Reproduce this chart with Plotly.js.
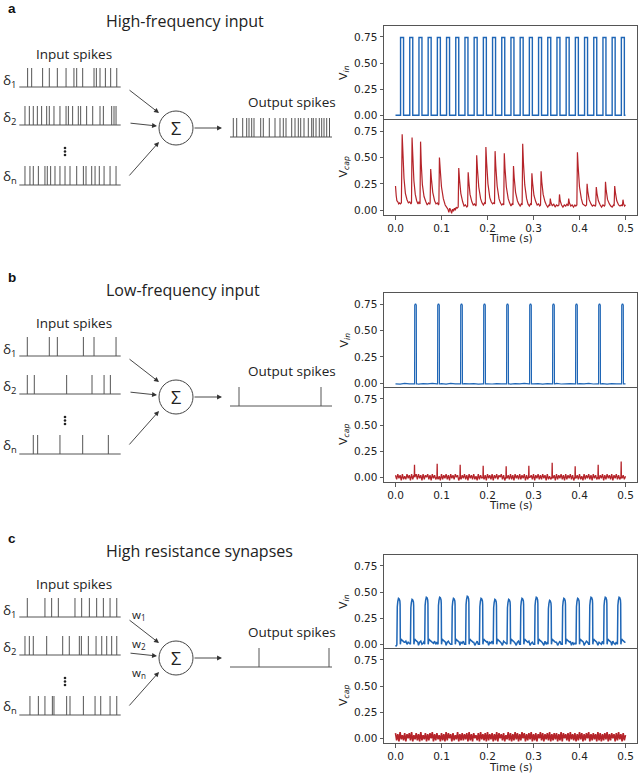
<!DOCTYPE html>
<html><head><meta charset="utf-8">
<script src="https://cdn.plot.ly/plotly-3.0.1.min.js"></script>
<style>body{margin:0;background:#fff}#chart{width:640px;height:775px}</style>
</head><body><div id="chart"></div>
<script>
// ================= DATA =================
const timeTicks = [0, 0.1, 0.2, 0.3, 0.4, 0.5];
const timeTickText = ['0.0', '0.1', '0.2', '0.3', '0.4', '0.5'];
const voltTicks = [0, 0.25, 0.5, 0.75];
const voltTickText = ['0.00', '0.25', '0.50', '0.75'];
const tEnd = 0.5;

// ---- panel a: high-frequency input ----
const aVinOnsets = [0.011,0.031,0.051,0.071,0.091,0.111,0.131,0.151,0.171,0.191,0.211,0.231,0.251,
  0.271,0.291,0.311,0.331,0.351,0.371,0.391,0.411,0.431,0.451,0.471,0.491];
const aVinWidth = 0.0065;
const aVinHigh = 0.745;
const aVinBase = 0.0;
const aVcapSamples = [
 [0.000,0.23],[0.0015,0.14],[0.003,0.09],[0.005,0.08],[0.007,0.06],[0.009,0.07],[0.011,0.06],[0.0128,0.07],
 [0.0145,0.72],[0.016,0.56],[0.0185,0.30],[0.0215,0.16],[0.025,0.10],[0.028,0.07],[0.031,0.08],[0.0335,0.06],[0.0348,0.07],
 [0.036,0.69],[0.0375,0.53],[0.040,0.28],[0.043,0.15],[0.046,0.09],[0.049,0.06],[0.051,0.08],[0.0533,0.06],
 [0.0545,0.65],[0.056,0.44],[0.0585,0.24],[0.062,0.13],[0.066,0.08],[0.069,0.05],[0.072,0.07],[0.0745,0.06],[0.0753,0.07],
 [0.0765,0.39],[0.078,0.30],[0.081,0.17],[0.085,0.09],[0.088,0.06],[0.091,0.07],[0.0935,0.05],[0.0943,0.06],
 [0.0955,0.50],[0.097,0.40],[0.100,0.22],[0.104,0.11],[0.108,0.05],[0.111,0.03],[0.114,0.01],[0.116,-0.02],[0.118,0.02],
 [0.120,0.00],[0.122,-0.03],[0.124,0.01],[0.126,-0.01],[0.128,0.02],[0.130,0.00],[0.132,0.03],[0.134,0.02],[0.1363,0.03],
 [0.1375,0.40],[0.139,0.30],[0.142,0.16],[0.146,0.08],[0.149,0.04],[0.152,0.05],[0.155,0.03],[0.1568,0.04],
 [0.158,0.36],[0.1595,0.27],[0.162,0.15],[0.166,0.08],[0.169,0.05],[0.172,0.06],[0.1745,0.04],[0.1753,0.05],
 [0.1765,0.52],[0.178,0.40],[0.181,0.22],[0.185,0.11],[0.188,0.07],[0.191,0.05],[0.1935,0.07],[0.1953,0.06],
 [0.1965,0.60],[0.198,0.46],[0.201,0.25],[0.205,0.12],[0.208,0.08],[0.211,0.06],[0.2135,0.07],[0.2153,0.06],
 [0.2165,0.56],[0.218,0.42],[0.221,0.23],[0.225,0.11],[0.228,0.07],[0.231,0.05],[0.2335,0.06],[0.2353,0.05],
 [0.2365,0.54],[0.238,0.40],[0.241,0.22],[0.245,0.11],[0.248,0.07],[0.251,0.04],[0.2535,0.06],[0.2553,0.05],
 [0.2565,0.42],[0.258,0.31],[0.261,0.17],[0.265,0.09],[0.268,0.06],[0.271,0.04],[0.2735,0.06],[0.2753,0.05],
 [0.2765,0.63],[0.278,0.46],[0.281,0.24],[0.285,0.11],[0.288,0.06],[0.291,0.04],[0.2935,0.06],[0.2953,0.05],
 [0.2965,0.35],[0.298,0.26],[0.301,0.14],[0.305,0.08],[0.308,0.05],[0.311,0.06],[0.3135,0.04],[0.3153,0.05],
 [0.3165,0.37],[0.318,0.27],[0.321,0.15],[0.325,0.08],[0.328,0.05],[0.331,0.03],[0.334,0.05],[0.3355,0.04],
 [0.3365,0.11],[0.338,0.07],[0.341,0.04],[0.344,0.06],[0.347,0.03],[0.350,0.05],[0.353,0.04],[0.3553,0.05],
 [0.3565,0.15],[0.358,0.09],[0.361,0.05],[0.364,0.03],[0.367,0.05],[0.370,0.04],[0.373,0.06],[0.3753,0.04],
 [0.3765,0.11],[0.378,0.07],[0.381,0.04],[0.384,0.05],[0.387,0.03],[0.390,0.05],[0.392,0.04],[0.3943,0.05],
 [0.3955,0.55],[0.397,0.42],[0.400,0.22],[0.404,0.11],[0.407,0.06],[0.410,0.05],[0.413,0.04],[0.4153,0.05],
 [0.4165,0.25],[0.418,0.18],[0.421,0.10],[0.425,0.06],[0.428,0.04],[0.431,0.05],[0.434,0.04],[0.4353,0.05],
 [0.4365,0.22],[0.438,0.16],[0.441,0.09],[0.445,0.05],[0.448,0.03],[0.451,0.05],[0.454,0.04],[0.4553,0.05],
 [0.4565,0.27],[0.458,0.19],[0.461,0.10],[0.465,0.06],[0.468,0.04],[0.471,0.03],[0.474,0.05],[0.4753,0.04],
 [0.4765,0.23],[0.478,0.17],[0.481,0.09],[0.485,0.05],[0.488,0.04],[0.491,0.05],[0.4933,0.04],
 [0.4945,0.10],[0.496,0.06],[0.498,0.04],[0.500,0.05]
];

// ---- panel b: low-frequency input ----
const bVinOnsets = [0.0415,0.0915,0.1415,0.1915,0.2415,0.2915,0.3415,0.3915,0.4415,0.4915];
const bVinWidth = 0.004;
const bVinHigh = 0.745;
const bVinBaseStep = 0.01;
const bVinBase = [-0.005,-0.008,-0.002,-0.006,-0.004,-0.009,-0.003,-0.006,-0.001,-0.007,-0.004,-0.008,-0.002,
  -0.005,-0.007,-0.003,-0.006,-0.004,-0.009,-0.002,-0.005,-0.007,-0.003,-0.006,-0.001,-0.008,-0.004,-0.006,-0.002,
  -0.007,-0.005,-0.003,-0.008,-0.004,-0.006,-0.002,-0.007,-0.005,-0.003,-0.008,-0.004,-0.006,-0.001,-0.007,-0.005,
  -0.003,-0.008,-0.004,-0.006,-0.002,-0.005];
const bVcapSpikeT = [0.0413,0.0906,0.1406,0.1906,0.2406,0.2899,0.3406,0.3906,0.4406,0.4906];
const bVcapSpikeV = [0.12,0.13,0.12,0.11,0.105,0.11,0.14,0.105,0.12,0.15];
const bVcapNoiseStep = 0.0025;
const bVcapNoise = [
 0.02,-0.02,0.03,-0.01,0.02,-0.03,0.03,-0.02,0.01,-0.02,0.03,-0.01,0.02,-0.03,0.03,-0.02,0.02,-0.01,0.03,-0.02,
 0.03,-0.01,0.02,-0.03,0.03,-0.02,0.02,0.00,0.03,-0.02,0.02,-0.03,0.03,-0.01,0.02,-0.02,0.03,-0.02,0.01,-0.03,
 0.03,-0.02,0.02,-0.01,0.03,-0.02,0.02,-0.03,0.03,-0.01,0.02,-0.02,0.03,0.00,0.02,-0.03,0.03,-0.02,0.02,-0.01,
 0.03,-0.02,0.02,-0.03,0.03,-0.01,0.02,-0.02,0.03,-0.02,0.01,-0.03,0.03,-0.02,0.02,-0.01,0.03,-0.02,0.02,-0.03,
 0.03,-0.01,0.02,-0.02,0.03,-0.03,0.02,-0.01,0.03,-0.02,0.02,0.00,0.03,-0.02,0.02,-0.03,0.03,-0.01,0.02,-0.02,
 0.03,-0.02,0.02,-0.03,0.03,-0.01,0.02,-0.02,0.03,-0.02,0.02,-0.01,0.03,-0.03,0.02,-0.02,0.03,0.00,0.02,-0.02,
 0.03,-0.03,0.02,-0.01,0.03,-0.02,0.02,-0.02,0.03,-0.01,0.02,-0.03,0.03,-0.02,0.01,-0.02,0.03,-0.01,0.02,-0.03,
 0.03,-0.02,0.02,-0.01,0.03,-0.02,0.02,-0.03,0.03,-0.02,0.02,-0.01,0.03,-0.02,0.02,-0.03,0.03,-0.01,0.02,-0.02,
 0.03,-0.02,0.01,-0.03,0.03,-0.02,0.02,-0.01,0.03,-0.02,0.02,-0.03,0.03,-0.01,0.02,-0.02,0.03,-0.02,0.02,-0.01,
 0.03,-0.03,0.02,-0.02,0.03,-0.01,0.02,-0.02,0.03,-0.03,0.02,-0.01,0.03,-0.02,0.02,-0.02,0.03,-0.01,0.02,-0.02,
 0.01];

// ---- panel c: high resistance synapses ----
const cVinOnsets = [0.0035,0.033,0.064,0.093,0.123,0.153,0.183,0.213,0.243,0.272,0.303,0.332,0.363,0.393,0.422,0.453,0.483];
const cVinTops = [0.44,0.43,0.45,0.45,0.44,0.46,0.44,0.43,0.43,0.44,0.45,0.42,0.44,0.44,0.45,0.45,0.45];
const cVinWidth = 0.0065;
const cVinOvershoot = 0.05;
const cVinNoiseStep = 0.0025;
const cVinNoise = [
 -0.02,-0.01,0.01,0.02,0.00,0.03,0.01,-0.01,0.02,0.03,0.00,0.02,0.01,-0.01,0.03,0.01,0.02,0.00,0.03,0.01,
 -0.01,0.02,0.03,0.00,0.01,0.03,-0.01,0.02,0.01,0.00,0.03,0.02,-0.01,0.01,0.03,0.00,0.02,0.01,0.03,-0.01,
 0.02,0.00,0.03,0.01,-0.01,0.02,0.03,0.01,0.00,0.02,-0.01,0.03,0.01,0.02,0.00,0.03,-0.01,0.02,0.01,0.03,
 0.00,0.01,0.03,-0.01,0.02,0.01,0.00,0.03,0.02,-0.01,0.01,0.03,0.00,0.02,0.01,-0.01,0.03,0.02,0.00,0.01,
 0.03,-0.01,0.02,0.01,0.03,0.00,0.02,-0.01,0.01,0.03,0.02,0.00,0.01,-0.01,0.03,0.02,0.01,0.00,0.03,-0.01,
 0.01,0.02,0.00,0.03,0.01,-0.01,0.02,0.03,0.00,0.01,0.02,-0.01,0.03,0.01,0.00,0.02,0.03,-0.01,0.01,0.02,
 0.00,0.03,0.01,-0.01,0.02,0.00,0.03,0.02,0.01,-0.01,0.03,0.00,0.02,0.01,0.03,-0.01,0.01,0.02,0.00,0.03,
 0.02,-0.01,0.01,0.03,0.00,0.02,0.01,-0.01,0.03,0.02,0.00,0.01,0.03,-0.01,0.02,0.00,0.01,0.03,0.02,-0.01,
 0.01,0.03,0.00,0.02,-0.01,0.01,0.03,0.02,0.00,0.01,-0.01,0.03,0.02,0.00,0.01,0.03,-0.01,0.02,0.01,0.00,
 0.03,0.01,-0.01,0.02,0.03,0.00,0.01,0.02,-0.01,0.03,0.01,0.00,0.02,0.03,-0.01,0.01,0.02,0.00,0.03,0.04,
 0.02];
const cVcapNoiseStep = 0.0025;
const cVcapNoise = [
 0.05,-0.02,0.04,-0.03,0.06,-0.01,0.03,-0.02,0.05,-0.03,0.04,0.00,0.05,-0.02,0.06,-0.03,0.03,-0.01,0.05,-0.02,
 0.04,-0.03,0.06,-0.02,0.03,-0.01,0.05,-0.03,0.04,-0.02,0.05,0.00,0.06,-0.03,0.04,-0.02,0.05,-0.01,0.03,-0.03,
 0.05,-0.02,0.04,-0.03,0.06,-0.02,0.05,0.00,0.04,-0.03,0.05,-0.02,0.03,-0.01,0.06,-0.03,0.04,-0.02,0.05,-0.02,
 0.04,-0.01,0.05,-0.03,0.06,-0.02,0.04,-0.03,0.05,0.00,0.03,-0.02,0.05,-0.03,0.06,-0.01,0.04,-0.02,0.05,-0.03,
 0.06,-0.02,0.04,-0.01,0.05,-0.03,0.04,-0.02,0.06,-0.03,0.05,0.00,0.04,-0.02,0.05,-0.03,0.03,-0.01,0.06,-0.02,
 0.05,-0.03,0.04,-0.02,0.06,-0.01,0.05,-0.03,0.04,-0.02,0.06,0.00,0.05,-0.03,0.04,-0.02,0.05,-0.01,0.06,-0.03,
 0.04,-0.02,0.05,-0.03,0.04,0.00,0.06,-0.02,0.05,-0.03,0.04,-0.01,0.05,-0.02,0.06,-0.03,0.04,-0.02,0.05,-0.01,
 0.05,-0.03,0.04,-0.02,0.06,-0.03,0.05,0.00,0.04,-0.02,0.05,-0.03,0.06,-0.01,0.04,-0.02,0.05,-0.03,0.04,-0.02,
 0.06,-0.01,0.05,-0.03,0.04,-0.02,0.05,0.00,0.06,-0.03,0.04,-0.02,0.05,-0.01,0.04,-0.03,0.06,-0.02,0.05,-0.03,
 0.04,-0.02,0.05,-0.01,0.06,-0.03,0.04,-0.02,0.05,0.00,0.04,-0.03,0.05,-0.02,0.06,-0.01,0.04,-0.03,0.05,-0.02,
 0.03];

// ---- schematic spike trains (position along the train, 0-100) ----
const aIn1 = [8.2,12.2,23.0,29.6,37.5,46.1,53.9,56.6,62.5,73.7,76.0,79.6,84.9,90.1,96.1];
const aIn2 = [5.6,9.9,13.8,17.8,22.0,27.0,29.6,34.2,40.1,46.1,48.4,52.6,58.2,60.5,66.4,72.4,79.6,82.9,91.1,93.4,95.4];
const aInN = [5.6,10.5,13.8,18.8,25.3,27.6,30.9,35.2,40.1,45.1,50.0,56.6,63.2,65.8,71.4,74.7,78.9,83.6,89.5,95.4];
const aOut = [3.3,6.7,12.7,16.7,19.0,21.7,24.0,30.7,33.3,39.3,45.0,50.0,53.3,56.0,61.7,65.0,68.3,70.7,74.0,78.3,81.7,83.3,86.0,89.3,91.7,94.0,96.7,99.5];
const bIn1 = [7.9,29.6,37.5,63.2,73.7,95.4];
const bIn2 = [7.9,14.8,46.7,71.7,83.6,89.8];
const bInN = [13.8,18.1,40.1,62.5,87.8];
const bOut = [9.0,91.0];
const cIn1 = [7.9,25.3,31.9,38.5,54.9,61.5,69.1,76.3,82.9,89.5,96.1];
const cIn2 = [5.6,9.9,13.8,27.0,42.8,49.3,59.2,61.2,68.1,75.7,81.3,86.2,91.1,96.1];
const cInN = [10.5,18.8,25.3,32.6,34.2,46.7,50.0,63.2,74.7,80.3,89.5,96.1];
const cOut = [29.0,99.0];

const panelTitles = ['High-frequency input', 'Low-frequency input', 'High resistance synapses'];
const panelLetters = ['a', 'b', 'c'];
const inputLabel = 'Input spikes';
const outputLabel = 'Output spikes';
const deltaLabels = ['δ<sub>1</sub>', 'δ<sub>2</sub>', 'δ<sub>n</sub>'];
const weightLabels = ['w<sub>1</sub>', 'w<sub>2</sub>', 'w<sub>n</sub>'];

// ================= STYLE / GEOMETRY =================
const BLUE = '#1f66b6', RED = '#b5242a', GRAY = '#555';
const panelCY = [128, 397, 658];
const inX0 = 19.3, inLen = 101.4, outX0 = 230, outLen = 100, outEnd = 332, spikeH = 19;
const xDom = [384/640, 637/640];
const yDoms = [[26,120],[120,215],[293,388],[388,482],[555,649],[649,743]]
  .map(p => [1 - p[1]/775, 1 - p[0]/775]);
const timeLabelY = [238, 505, 767];

// ================= BUILD =================
function sortXY(pts) { pts.sort((a, b) => a[0] - b[0]); return { x: pts.map(p => p[0]), y: pts.map(p => p[1]) }; }
function grid(vals, dt, windows) {
  const out = [];
  vals.forEach((v, i) => { const t = +(i * dt).toFixed(5); if (!windows.some(w => t >= w[0] && t <= w[1])) out.push([t, v]); });
  return out;
}
// a Vin
const aVinPts = [[0, aVinBase]];
aVinOnsets.forEach(on => { aVinPts.push([on, aVinBase], [on, aVinHigh], [on + aVinWidth, aVinHigh], [on + aVinWidth, aVinBase]); });
aVinPts.push([tEnd, aVinBase]);
// b Vin
const bVinPts = grid(bVinBase, bVinBaseStep, bVinOnsets.map(on => [on - 0.002, on + bVinWidth + 0.002]));
bVinOnsets.forEach(on => {
  bVinPts.push([on - 0.0015, -0.005], [on, -0.005], [on + 0.0003, bVinHigh - 0.005], [on + 0.0015, bVinHigh + 0.005],
    [on + 0.0025, bVinHigh + 0.005], [on + bVinWidth - 0.0003, bVinHigh - 0.005], [on + bVinWidth, -0.005], [on + bVinWidth + 0.0015, -0.005]);
});
// b Vcap
const bVcapPts = grid(bVcapNoise, bVcapNoiseStep, bVcapSpikeT.map(t => [t - 0.0012, t + 0.0012]));
bVcapSpikeT.forEach((t, i) => { bVcapPts.push([t - 0.0005, 0.005], [t, bVcapSpikeV[i]], [t + 0.0005, 0.0]); });
// c Vin
const cVinPts = grid(cVinNoise, cVinNoiseStep, cVinOnsets.map(on => [on - 0.0008, on + cVinWidth + 0.0095]));
cVinOnsets.forEach((on, i) => {
  const top = cVinTops[i], e = on + cVinWidth;
  cVinPts.push([on - 0.0005, 0.0], [on + 0.0004, top - 0.08], [on + 0.0015, top - 0.03], [on + 0.003, top],
    [on + 0.0045, top - 0.005], [on + 0.006, top - 0.025], [e, top - 0.06], [e + 0.0005, 0.0],
    [e + 0.002, cVinOvershoot], [e + 0.004, cVinOvershoot - 0.01], [e + 0.0065, cVinOvershoot - 0.02], [e + 0.009, cVinOvershoot - 0.03]);
});
// c Vcap
const cVcapPts = grid(cVcapNoise, cVcapNoiseStep, []);

const series = [
  [sortXY(aVinPts), BLUE, 1.4], [sortXY(aVcapSamples.slice()), RED, 1.2],
  [sortXY(bVinPts), BLUE, 1.2], [sortXY(bVcapPts), RED, 1.3],
  [sortXY(cVinPts), BLUE, 1.5], [sortXY(cVcapPts), RED, 1.6]
];
const traces = series.map((s, i) => ({
  type: 'scatter', mode: 'lines', x: s[0].x, y: s[0].y,
  xaxis: i ? 'x' + (i + 1) : 'x', yaxis: i ? 'y' + (i + 1) : 'y',
  line: { color: s[1], width: s[2], simplify: false }, hoverinfo: 'skip'
}));

// schematic trains
function train(spikes, x0, len, xEnd, base) {
  const x = [x0, xEnd, null], y = [base, base, null];
  spikes.forEach(s => { const xs = x0 + s / 100 * len; x.push(xs, xs, null); y.push(base, base - spikeH, null); });
  return { type: 'scatter', mode: 'lines', x, y, xaxis: 'x7', yaxis: 'y7', line: { color: GRAY, width: 1, simplify: false }, hoverinfo: 'skip' };
}
const panelTrains = [[aIn1, aIn2, aInN, aOut], [bIn1, bIn2, bInN, bOut], [cIn1, cIn2, cInN, cOut]];
const annotations = [], shapes = [];
const diagFont = 'Open Sans, Noto Sans, sans-serif';
const dotX = [], dotY = [];
panelTrains.forEach((tr, p) => {
  const cy = panelCY[p];
  const bases = [cy - 41, cy - 3, cy + 57];
  for (let k = 0; k < 3; k++) traces.push(train(tr[k], inX0, inLen, inX0 + inLen, bases[k]));
  traces.push(train(tr[3], outX0, outLen, outEnd, cy + 9));
  const A = (text, x, y, size, extra) => annotations.push(Object.assign({ xref: 'x7', yref: 'y7', x, y, text, showarrow: false,
    font: { family: diagFont, size, color: '#222' }, xanchor: 'left', yanchor: 'middle' }, extra || {}));
  A('<b>' + panelLetters[p] + '</b>', 6, cy - 120, 13.5, { font: { family: 'Liberation Sans, Arial', size: 13.5, color: '#111' } });
  A(panelTitles[p], 104, cy - 107, 16);
  A(inputLabel, 34, cy - 74, 13.5);
  [cy - 47, cy - 10, cy + 49].forEach((y, k) => A(deltaLabels[k], 1, y, 13.5));
  dotX.push(65, 65, 65, null); dotY.push(cy + 20, cy + 23.5, cy + 27, null);
  A('Σ', 176, cy, 18, { xanchor: 'center' });
  A(outputLabel, 246, cy - 26, 13.5);
  if (p === 2) [cy - 43, cy - 14, cy + 15].forEach((y, k) => A(weightLabels[k], 130, y, 11.5));
  const arrows = [[128, cy - 39, 159, cy - 15], [129, cy - 5, 157, cy - 2], [128, cy + 49, 159, cy + 14], [193, cy, 222, cy]];
  arrows.forEach(a => annotations.push({ xref: 'x7', yref: 'y7', axref: 'x7', ayref: 'y7', ax: a[0], ay: a[1], x: a[2], y: a[3],
    text: '', showarrow: true, arrowhead: 2, arrowsize: 1.1, arrowwidth: 0.9, arrowcolor: '#333' }));
  shapes.push({ type: 'circle', xref: 'x7', yref: 'y7', x0: 159, x1: 193, y0: cy - 17, y1: cy + 17, line: { color: '#444', width: 1 } });
});
traces.push({ type: 'scatter', mode: 'markers', x: dotX, y: dotY, xaxis: 'x7', yaxis: 'y7',
  marker: { color: '#222', size: 2.6 }, hoverinfo: 'skip' });

// plot axis labels
const plotFont = 'DejaVu Sans';
yDoms.forEach((d, i) => {
  annotations.push({ xref: 'paper', yref: 'paper', x: 344 / 640, y: (d[0] + d[1]) / 2, xanchor: 'center', yanchor: 'middle',
    textangle: -90, showarrow: false,
    text: i % 2 === 0 ? 'V<sub><i>in</i></sub>' : 'V<sub><i>cap</i></sub>', font: { family: plotFont, size: 11, color: '#222' } });
});
timeLabelY.forEach(y => annotations.push({ xref: 'paper', yref: 'paper', x: 511 / 640, y: 1 - y / 775, xanchor: 'center', yanchor: 'middle',
  showarrow: false, text: 'Time (s)', font: { family: plotFont, size: 10.5, color: '#222' } }));

const layout = {
  width: 640, height: 775, margin: { l: 0, r: 0, t: 0, b: 0 }, paper_bgcolor: '#fff', plot_bgcolor: 'rgba(0,0,0,0)',
  showlegend: false, font: { family: plotFont, size: 10.5, color: '#222' }, annotations, shapes,
  xaxis7: { domain: [0, 1], range: [0, 640], anchor: 'y7', visible: false, fixedrange: true },
  yaxis7: { domain: [0, 1], range: [775, 0], anchor: 'x7', visible: false, fixedrange: true }
};
for (let i = 0; i < 6; i++) {
  const n = i ? (i + 1) : '';
  const bottom = i % 2 === 1;
  layout['xaxis' + n] = { domain: xDom, range: [-0.025, 0.525], anchor: 'y' + n, showline: true, mirror: bottom, side: bottom ? 'bottom' : 'top',
    linecolor: GRAY, linewidth: 1,
    showgrid: false, zeroline: false, tickvals: timeTicks, ticktext: timeTickText, ticks: bottom ? 'outside' : '', ticklen: 3.5,
    tickwidth: 0.8, tickcolor: '#333', showticklabels: bottom, tickfont: { family: plotFont, size: 10.5, color: '#222' } };
  layout['yaxis' + n] = { domain: yDoms[i], range: [-0.045, 0.855], anchor: 'x' + n, showline: true, mirror: true, linecolor: GRAY, linewidth: 1,
    showgrid: false, zeroline: false, tickvals: voltTicks, ticktext: voltTickText, ticks: 'outside', ticklen: 3.5, tickwidth: 0.8,
    tickcolor: '#333', tickfont: { family: plotFont, size: 10.5, color: '#222' } };
}
Plotly.newPlot('chart', traces, layout, { staticPlot: true, displayModeBar: false });
</script></body></html>
